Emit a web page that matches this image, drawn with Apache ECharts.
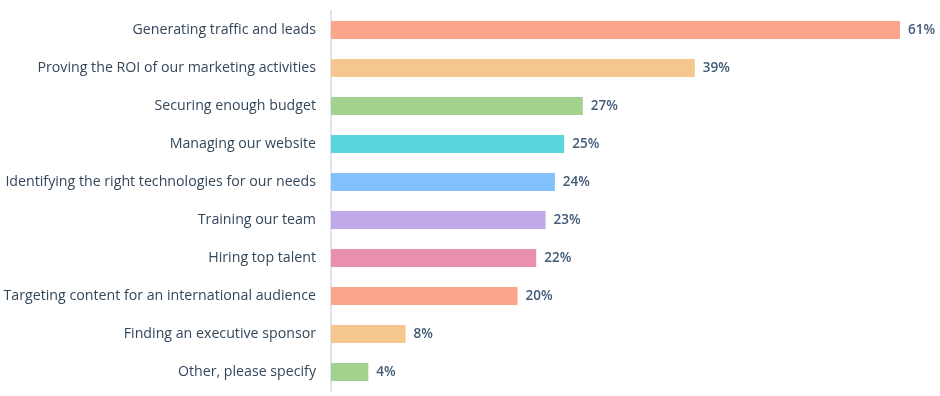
<!DOCTYPE html>
<html><head><meta charset="utf-8">
<script src="https://cdn.jsdelivr.net/npm/echarts@6/dist/echarts.min.js"></script>
<style>html,body{margin:0;padding:0;background:#fff}#c{width:940px;height:396px}</style>
</head><body><div id="c"></div>
<script>
const categories = [
  "Generating traffic and leads",
  "Proving the ROI of our marketing activities",
  "Securing enough budget",
  "Managing our website",
  "Identifying the right technologies for our needs",
  "Training our team",
  "Hiring top talent",
  "Targeting content for an international audience",
  "Finding an executive sponsor",
  "Other, please specify"
];
const values = [61, 39, 27, 25, 24, 23, 22, 20, 8, 4];
const colors = ["#FBA58D", "#F5C68D", "#A2D38E", "#5AD5DE", "#82C1FB", "#BFA9E8", "#E990AF", "#FBA58D", "#F5C68D", "#A2D38E"];

const chart = echarts.init(document.getElementById('c'));
chart.setOption({
  animation: false,
  grid: { left: 331, right: 40, top: 11, bottom: 5, containLabel: false },
  xAxis: { type: 'value', min: 0, max: 61, show: false },
  yAxis: {
    type: 'category', data: categories, inverse: true,
    axisLine: { show: true, lineStyle: { color: '#DFE3EB', width: 2 } },
    axisTick: { show: false },
    axisLabel: { margin: 15, color: '#33475B', fontFamily: 'Open Sans', fontSize: 14.2 }
  },
  series: [{
    type: 'bar',
    data: values.map((v, i) => ({ value: v, itemStyle: { color: colors[i] } })),
    barWidth: 18,
    label: { show: true, position: 'right', distance: 8, formatter: '{c}%', color: '#425B76', fontFamily: 'Open Sans', fontSize: 13.5, fontWeight: 600 }
  }]
});
</script></body></html>
